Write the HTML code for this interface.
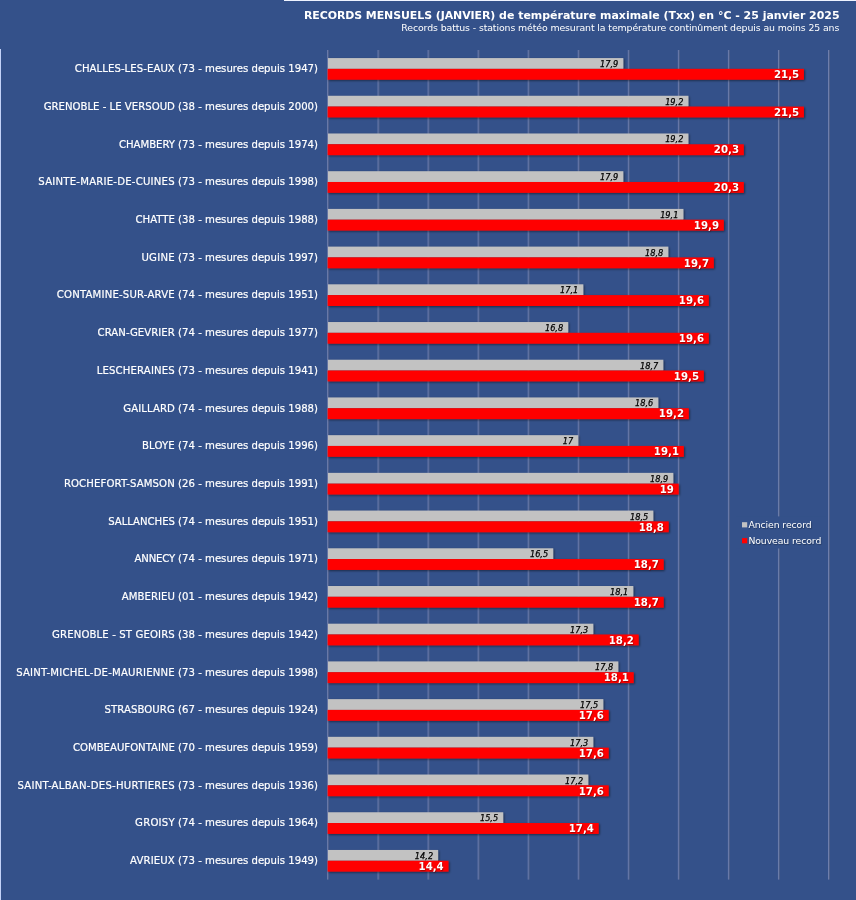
<!DOCTYPE html>
<html lang="fr"><head><meta charset="utf-8"><title>Records mensuels de température maximale</title>
<style>
html,body{margin:0;padding:0;}
body{width:856px;height:900px;overflow:hidden;background:#34518a;position:relative;
 font-family:"DejaVu Sans","Liberation Sans",sans-serif;color:#fff;}
.e{position:absolute;}
.txt{left:0;top:0;width:856px;height:900px;will-change:transform;}
svg{position:absolute;left:0;top:0;}
.topline{left:284px;top:0;width:572px;height:1px;background:#eef3ff;}
.leftline{left:0;top:49px;width:1px;height:851px;background:#c3d2f8;}
.title{right:16.4px;top:9px;font-weight:bold;font-size:10.96px;line-height:14px;white-space:nowrap;}
.sub{right:16.8px;top:21.5px;font-size:9.4px;letter-spacing:-0.11px;line-height:12px;white-space:nowrap;}
.lab{-webkit-text-stroke:.2px #fff;right:538.0px;font-size:10.15px;line-height:14px;height:14px;white-space:nowrap;text-align:right;}
.lab b{font-weight:normal;letter-spacing:0.12px;}
.gv{font-style:italic;font-size:8.2px;color:#000;-webkit-text-stroke:.25px #000;line-height:12px;height:12px;text-align:right;white-space:nowrap;}
.rv{font-weight:bold;font-size:10.2px;color:#fff;line-height:12px;height:12px;text-align:right;white-space:nowrap;text-shadow:.7px .7px 1px rgba(90,0,0,.55);}
.lt{font-size:9.3px;letter-spacing:-0.08px;line-height:12px;white-space:nowrap;text-shadow:.7px .7px 1px rgba(0,0,0,.35);}
</style></head><body>
<div class="e topline"></div><div class="e leftline"></div>
<svg width="856" height="900" viewBox="0 0 856 900">
<defs><filter id="sh" x="-5%" y="-50%" width="110%" height="200%"><feGaussianBlur in="SourceAlpha" stdDeviation="0.95"/><feOffset dx="1.2" dy="1.4"/><feComponentTransfer><feFuncA type="linear" slope="0.5"/></feComponentTransfer><feMerge><feMergeNode/><feMergeNode in="SourceGraphic"/></feMerge></filter></defs>
<rect x="328.1" y="50" width="1" height="829.6" fill="#4d5e88"/><rect x="327.1" y="50" width="1" height="829.6" fill="#6e7eac"/>
<rect x="378.55" y="50" width="1" height="829.6" fill="#4d5e88"/><rect x="377.55" y="50" width="1" height="829.6" fill="#6e7eac"/>
<rect x="428.6" y="50" width="1" height="829.6" fill="#4d5e88"/><rect x="427.6" y="50" width="1" height="829.6" fill="#6e7eac"/>
<rect x="478.65" y="50" width="1" height="829.6" fill="#4d5e88"/><rect x="477.65" y="50" width="1" height="829.6" fill="#6e7eac"/>
<rect x="528.7" y="50" width="1" height="829.6" fill="#4d5e88"/><rect x="527.7" y="50" width="1" height="829.6" fill="#6e7eac"/>
<rect x="578.75" y="50" width="1" height="829.6" fill="#4d5e88"/><rect x="577.75" y="50" width="1" height="829.6" fill="#6e7eac"/>
<rect x="628.8" y="50" width="1" height="829.6" fill="#4d5e88"/><rect x="627.8" y="50" width="1" height="829.6" fill="#6e7eac"/>
<rect x="678.85" y="50" width="1" height="829.6" fill="#4d5e88"/><rect x="677.85" y="50" width="1" height="829.6" fill="#6e7eac"/>
<rect x="728.9" y="50" width="1" height="829.6" fill="#4d5e88"/><rect x="727.9" y="50" width="1" height="829.6" fill="#6e7eac"/>
<rect x="778.95" y="50" width="1" height="829.6" fill="#4d5e88"/><rect x="777.95" y="50" width="1" height="829.6" fill="#6e7eac"/>
<rect x="829" y="50" width="1" height="829.6" fill="#4d5e88"/><rect x="828" y="50" width="1" height="829.6" fill="#6e7eac"/>
<g filter="url(#sh)"><rect x="328" y="58.08" width="295.3" height="10.77" fill="#c2c2c2"/><rect x="327.6" y="68.85" width="476.3" height="10.87" fill="#ff0000"/></g>
<g filter="url(#sh)"><rect x="328" y="95.79" width="360.4" height="10.77" fill="#c2c2c2"/><rect x="327.6" y="106.56" width="476.3" height="10.87" fill="#ff0000"/></g>
<g filter="url(#sh)"><rect x="328" y="133.50" width="360.4" height="10.77" fill="#c2c2c2"/><rect x="327.6" y="144.27" width="416.2" height="10.87" fill="#ff0000"/></g>
<g filter="url(#sh)"><rect x="328" y="171.21" width="295.3" height="10.77" fill="#c2c2c2"/><rect x="327.6" y="181.98" width="416.2" height="10.87" fill="#ff0000"/></g>
<g filter="url(#sh)"><rect x="328" y="208.92" width="355.4" height="10.77" fill="#c2c2c2"/><rect x="327.6" y="219.69" width="396.2" height="10.87" fill="#ff0000"/></g>
<g filter="url(#sh)"><rect x="328" y="246.63" width="340.3" height="10.77" fill="#c2c2c2"/><rect x="327.6" y="257.40" width="386.2" height="10.87" fill="#ff0000"/></g>
<g filter="url(#sh)"><rect x="328" y="284.33" width="255.3" height="10.77" fill="#c2c2c2"/><rect x="327.6" y="295.11" width="381.2" height="10.87" fill="#ff0000"/></g>
<g filter="url(#sh)"><rect x="328" y="322.04" width="240.2" height="10.77" fill="#c2c2c2"/><rect x="327.6" y="332.82" width="381.2" height="10.87" fill="#ff0000"/></g>
<g filter="url(#sh)"><rect x="328" y="359.75" width="335.3" height="10.77" fill="#c2c2c2"/><rect x="327.6" y="370.53" width="376.2" height="10.87" fill="#ff0000"/></g>
<g filter="url(#sh)"><rect x="328" y="397.46" width="330.3" height="10.77" fill="#c2c2c2"/><rect x="327.6" y="408.23" width="361.2" height="10.87" fill="#ff0000"/></g>
<g filter="url(#sh)"><rect x="328" y="435.17" width="250.2" height="10.77" fill="#c2c2c2"/><rect x="327.6" y="445.94" width="356.2" height="10.87" fill="#ff0000"/></g>
<g filter="url(#sh)"><rect x="328" y="472.88" width="345.3" height="10.77" fill="#c2c2c2"/><rect x="327.6" y="483.65" width="351.1" height="10.87" fill="#ff0000"/></g>
<g filter="url(#sh)"><rect x="328" y="510.59" width="325.3" height="10.77" fill="#c2c2c2"/><rect x="327.6" y="521.36" width="341.1" height="10.87" fill="#ff0000"/></g>
<g filter="url(#sh)"><rect x="328" y="548.30" width="225.2" height="10.77" fill="#c2c2c2"/><rect x="327.6" y="559.07" width="336.1" height="10.87" fill="#ff0000"/></g>
<g filter="url(#sh)"><rect x="328" y="586.01" width="305.3" height="10.77" fill="#c2c2c2"/><rect x="327.6" y="596.78" width="336.1" height="10.87" fill="#ff0000"/></g>
<g filter="url(#sh)"><rect x="328" y="623.72" width="265.3" height="10.77" fill="#c2c2c2"/><rect x="327.6" y="634.49" width="311.1" height="10.87" fill="#ff0000"/></g>
<g filter="url(#sh)"><rect x="328" y="661.43" width="290.3" height="10.77" fill="#c2c2c2"/><rect x="327.6" y="672.20" width="306.1" height="10.87" fill="#ff0000"/></g>
<g filter="url(#sh)"><rect x="328" y="699.13" width="275.3" height="10.77" fill="#c2c2c2"/><rect x="327.6" y="709.91" width="281.1" height="10.87" fill="#ff0000"/></g>
<g filter="url(#sh)"><rect x="328" y="736.84" width="265.3" height="10.77" fill="#c2c2c2"/><rect x="327.6" y="747.62" width="281.1" height="10.87" fill="#ff0000"/></g>
<g filter="url(#sh)"><rect x="328" y="774.55" width="260.3" height="10.77" fill="#c2c2c2"/><rect x="327.6" y="785.33" width="281.1" height="10.87" fill="#ff0000"/></g>
<g filter="url(#sh)"><rect x="328" y="812.26" width="175.2" height="10.77" fill="#c2c2c2"/><rect x="327.6" y="823.03" width="271.1" height="10.87" fill="#ff0000"/></g>
<g filter="url(#sh)"><rect x="328" y="849.97" width="110.1" height="10.77" fill="#c2c2c2"/><rect x="327.6" y="860.74" width="120.9" height="10.87" fill="#ff0000"/></g>
<rect x="736" y="516.4" width="90" height="32.1" fill="#34518a"/>
<rect x="742" y="522.2" width="5.2" height="5.2" fill="#c2c2c2"/><rect x="742" y="538.1" width="5.2" height="5.2" fill="#ff0000"/>
</svg>
<div class="e txt">
<div class="e title"><span style="letter-spacing:-0.07px">RECORDS MENSUELS (JANVIER)</span> de température maximale (Txx) en °C - 25 janvier 2025</div>
<div class="e sub">Records battus - stations météo mesurant la température continûment depuis au moins 25 ans</div>
<div class="e lab" style="top:62.19px"><b style="letter-spacing:0.057px">CHALLES-LES-EAUX</b> (73 - mesures depuis 1947)</div>
<div class="e gv" style="left:328px;top:58.07px;width:290.3px">17,9</div><div class="e rv" style="left:328px;top:69.06px;width:471.1px">21,5</div>
<div class="e lab" style="top:99.90px"><b style="letter-spacing:0.006px">GRENOBLE - LE VERSOUD</b> (38 - mesures depuis 2000)</div>
<div class="e gv" style="left:328px;top:95.78px;width:355.4px">19,2</div><div class="e rv" style="left:328px;top:106.77px;width:471.1px">21,5</div>
<div class="e lab" style="top:137.61px"><b style="letter-spacing:-0.053px">CHAMBERY</b> (73 - mesures depuis 1974)</div>
<div class="e gv" style="left:328px;top:133.48px;width:355.4px">19,2</div><div class="e rv" style="left:328px;top:144.48px;width:411.0px">20,3</div>
<div class="e lab" style="top:175.32px"><b style="letter-spacing:0.216px">SAINTE-MARIE-DE-CUINES</b> (73 - mesures depuis 1998)</div>
<div class="e gv" style="left:328px;top:171.19px;width:290.3px">17,9</div><div class="e rv" style="left:328px;top:182.19px;width:411.0px">20,3</div>
<div class="e lab" style="top:213.03px"><b style="letter-spacing:-0.008px">CHATTE</b> (38 - mesures depuis 1988)</div>
<div class="e gv" style="left:328px;top:208.90px;width:350.4px">19,1</div><div class="e rv" style="left:328px;top:219.90px;width:391.0px">19,9</div>
<div class="e lab" style="top:250.74px"><b style="letter-spacing:0.244px">UGINE</b> (73 - mesures depuis 1997)</div>
<div class="e gv" style="left:328px;top:246.61px;width:335.3px">18,8</div><div class="e rv" style="left:328px;top:257.60px;width:381.0px">19,7</div>
<div class="e lab" style="top:288.45px"><b style="letter-spacing:0.176px">CONTAMINE-SUR-ARVE</b> (74 - mesures depuis 1951)</div>
<div class="e gv" style="left:328px;top:284.32px;width:250.3px">17,1</div><div class="e rv" style="left:328px;top:295.31px;width:376.0px">19,6</div>
<div class="e lab" style="top:326.16px"><b style="letter-spacing:0.036px">CRAN-GEVRIER</b> (74 - mesures depuis 1977)</div>
<div class="e gv" style="left:328px;top:322.03px;width:235.2px">16,8</div><div class="e rv" style="left:328px;top:333.02px;width:376.0px">19,6</div>
<div class="e lab" style="top:363.87px"><b style="letter-spacing:0.140px">LESCHERAINES</b> (73 - mesures depuis 1941)</div>
<div class="e gv" style="left:328px;top:359.74px;width:330.3px">18,7</div><div class="e rv" style="left:328px;top:370.73px;width:371.0px">19,5</div>
<div class="e lab" style="top:401.57px"><b style="letter-spacing:0.072px">GAILLARD</b> (74 - mesures depuis 1988)</div>
<div class="e gv" style="left:328px;top:397.45px;width:325.3px">18,6</div><div class="e rv" style="left:328px;top:408.44px;width:356.0px">19,2</div>
<div class="e lab" style="top:439.28px"><b style="letter-spacing:0.141px">BLOYE</b> (74 - mesures depuis 1996)</div>
<div class="e gv" style="left:328px;top:435.16px;width:245.2px">17</div><div class="e rv" style="left:328px;top:446.15px;width:351.0px">19,1</div>
<div class="e lab" style="top:476.99px"><b style="letter-spacing:0.103px">ROCHEFORT-SAMSON</b> (26 - mesures depuis 1991)</div>
<div class="e gv" style="left:328px;top:472.87px;width:340.3px">18,9</div><div class="e rv" style="left:328px;top:483.86px;width:345.9px">19</div>
<div class="e lab" style="top:514.70px"><b style="letter-spacing:-0.041px">SALLANCHES</b> (74 - mesures depuis 1951)</div>
<div class="e gv" style="left:328px;top:510.58px;width:320.3px">18,5</div><div class="e rv" style="left:328px;top:521.57px;width:335.9px">18,8</div>
<div class="e lab" style="top:552.41px"><b style="letter-spacing:-0.213px">ANNECY</b> (74 - mesures depuis 1971)</div>
<div class="e gv" style="left:328px;top:548.28px;width:220.2px">16,5</div><div class="e rv" style="left:328px;top:559.28px;width:330.9px">18,7</div>
<div class="e lab" style="top:590.12px"><b style="letter-spacing:0.036px">AMBERIEU</b> (01 - mesures depuis 1942)</div>
<div class="e gv" style="left:328px;top:585.99px;width:300.3px">18,1</div><div class="e rv" style="left:328px;top:596.99px;width:330.9px">18,7</div>
<div class="e lab" style="top:627.83px"><b style="letter-spacing:0.120px">GRENOBLE - ST GEOIRS</b> (38 - mesures depuis 1942)</div>
<div class="e gv" style="left:328px;top:623.70px;width:260.3px">17,3</div><div class="e rv" style="left:328px;top:634.70px;width:305.9px">18,2</div>
<div class="e lab" style="top:665.54px"><b style="letter-spacing:0.196px">SAINT-MICHEL-DE-MAURIENNE</b> (73 - mesures depuis 1998)</div>
<div class="e gv" style="left:328px;top:661.41px;width:285.3px">17,8</div><div class="e rv" style="left:328px;top:672.40px;width:300.9px">18,1</div>
<div class="e lab" style="top:703.25px"><b style="letter-spacing:0.071px">STRASBOURG</b> (67 - mesures depuis 1924)</div>
<div class="e gv" style="left:328px;top:699.12px;width:270.3px">17,5</div><div class="e rv" style="left:328px;top:710.11px;width:275.9px">17,6</div>
<div class="e lab" style="top:740.96px"><b style="letter-spacing:-0.013px">COMBEAUFONTAINE</b> (70 - mesures depuis 1959)</div>
<div class="e gv" style="left:328px;top:736.83px;width:260.3px">17,3</div><div class="e rv" style="left:328px;top:747.82px;width:275.9px">17,6</div>
<div class="e lab" style="top:778.67px"><b style="letter-spacing:0.240px">SAINT-ALBAN-DES-HURTIERES</b> (73 - mesures depuis 1936)</div>
<div class="e gv" style="left:328px;top:774.54px;width:255.3px">17,2</div><div class="e rv" style="left:328px;top:785.53px;width:275.9px">17,6</div>
<div class="e lab" style="top:816.37px"><b style="letter-spacing:0.223px">GROISY</b> (74 - mesures depuis 1964)</div>
<div class="e gv" style="left:328px;top:812.25px;width:170.2px">15,5</div><div class="e rv" style="left:328px;top:823.24px;width:265.9px">17,4</div>
<div class="e lab" style="top:854.08px"><b style="letter-spacing:0.117px">AVRIEUX</b> (73 - mesures depuis 1949)</div>
<div class="e gv" style="left:328px;top:849.96px;width:105.1px">14,2</div><div class="e rv" style="left:328px;top:860.95px;width:115.7px">14,4</div>
<div class="e lt" style="left:748.4px;top:519.1px">Ancien record</div>
<div class="e lt" style="left:748.4px;top:535px">Nouveau record</div>
</div>
</body></html>
